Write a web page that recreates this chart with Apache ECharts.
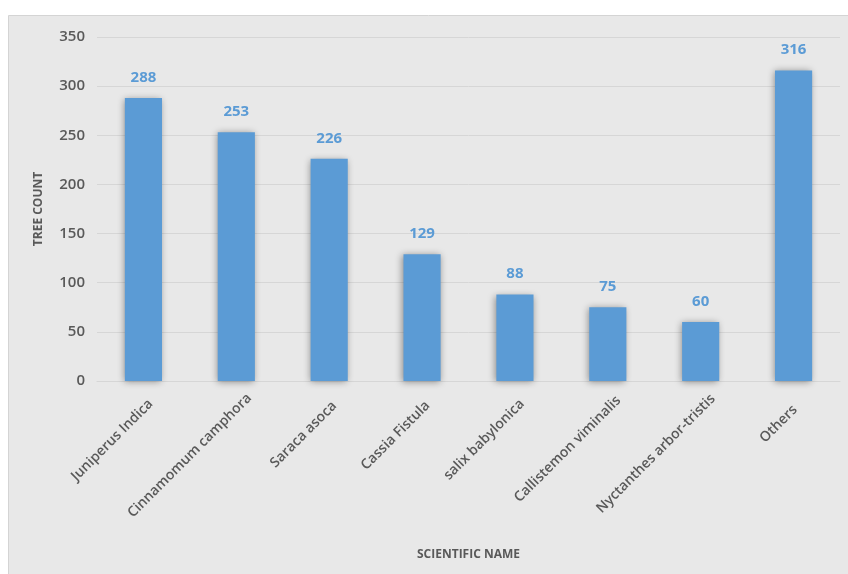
<!DOCTYPE html>
<html>
<head>
<meta charset="utf-8">
<script src="https://cdn.jsdelivr.net/npm/echarts@6/dist/echarts.min.js"></script>
<style>
html,body{margin:0;padding:0;background:#fff;}
#c{width:848px;height:574px;}
</style>
</head>
<body>
<div id="c"></div>
<script>
const categories = ["Juniperus Indica","Cinnamomum camphora","Saraca asoca","Cassia Fistula","salix babylonica","Callistemon viminalis","Nyctanthes arbor-tristis","Others"];
const treeCounts = [288,253,226,129,88,75,60,316];
const yTicks = [0,50,100,150,200,250,300,350];

const font = '"Open Sans", "DejaVu Sans", sans-serif';
const labelFontSize = 14;

// Excel-like placement of rotated labels: longer labels sit slightly further right.
const ctx = document.createElement('canvas').getContext('2d');
ctx.font = '600 ' + labelFontSize + 'px ' + font;
const categoryItems = categories.map(function (name) {
  const w = ctx.measureText(name).width;
  const shift = Math.max(0, 0.19 * w - 6);
  const b = shift / Math.SQRT2;
  return { value: name, textStyle: { padding: [2 * b, -b, 0, 0] } };
});

const chart = echarts.init(document.getElementById('c'));
chart.setOption({
  animation:false,
  backgroundColor:'#ffffff',
  graphic:[{type:'rect',left:8,top:15,shape:{width:840,height:559},style:{fill:'#e8e8e8',stroke:'#d4d4d4',lineWidth:1},z:-10}],
  grid:{left:97,right:8,top:37,bottom:193,containLabel:false},
  xAxis:{
    type:'category',
    data:categoryItems,
    name:'SCIENTIFIC NAME',
    nameLocation:'middle',
    nameGap:168,
    nameTextStyle:{fontFamily:font,fontSize:12,fontWeight:'bold',color:'#595959'},
    axisLine:{show:true,lineStyle:{color:'#d6d6d6'}},
    axisTick:{show:false},
    axisLabel:{rotate:45,interval:0,margin:28,fontFamily:font,fontSize:labelFontSize,fontWeight:600,color:'#595959'}
  },
  yAxis:{
    type:'value',
    min:0,max:350,interval:50,
    name:'TREE COUNT',
    nameLocation:'middle',
    nameGap:52,
    nameTextStyle:{fontFamily:font,fontSize:12,fontWeight:'bold',color:'#595959'},
    axisLine:{show:false},
    axisTick:{show:false},
    axisLabel:{margin:12,fontFamily:font,fontSize:15,fontWeight:600,color:'#595959',
      formatter:function(v){return yTicks.indexOf(v)>=0?String(v):'';}},
    splitLine:{lineStyle:{color:'#d6d6d6',width:1}}
  },
  series:[{
    type:'bar',
    data:treeCounts,
    barWidth:'40%',
    itemStyle:{color:'#5b9bd5',shadowColor:'rgba(0,0,0,0.4)',shadowBlur:7,shadowOffsetX:-1,shadowOffsetY:1},
    label:{show:true,position:'top',distance:13,fontFamily:font,fontSize:15,fontWeight:'bold',color:'#5b9bd5'}
  }]
});
</script>
</body>
</html>
